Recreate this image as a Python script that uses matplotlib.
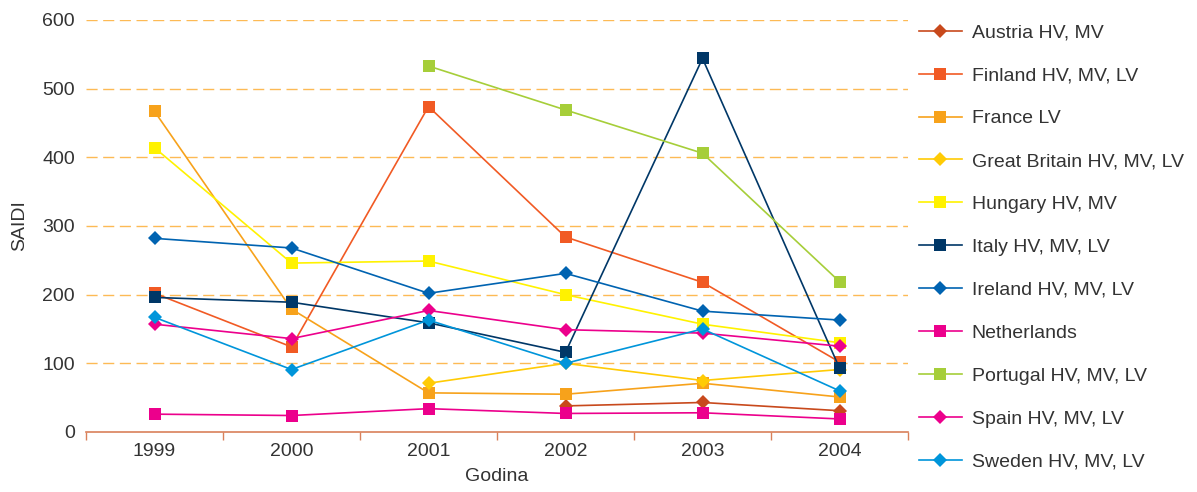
import matplotlib.pyplot as plt
import numpy as np

plt.rcParams['font.family'] = ['Liberation Sans', 'DejaVu Sans']

YEARS = ['1999', '2000', '2001', '2002', '2003', '2004']

SERIES_NAMES = [
    'Austria HV, MV', 'Finland HV, MV, LV', 'France LV', 'Great Britain HV, MV, LV',
    'Hungary HV, MV', 'Italy HV, MV, LV', 'Ireland HV, MV, LV', 'Netherlands',
    'Portugal HV, MV, LV', 'Spain HV, MV, LV', 'Sweden HV, MV, LV',
]

nan = np.nan
austria = [nan, nan, nan, 38, 43, 31]
finland = [202, 124, 474, 284, 218, 102]
france = [467, 179, 57, 55, 71, 51]
great_britain = [nan, nan, 71, 100, 75, 91]
hungary = [414, 246, 249, 200, 157, 130]
italy = [196, 189, 159, 116, 544, 93]
ireland = [282, 268, 202, 231, 176, 163]
netherlands = [26, 24, 34, 27, 28, 19]
portugal = [nan, nan, 533, 469, 406, 219]
spain = [157, 136, 177, 149, 144, 125]
sweden = [167, 91, 163, 100, 150, 60]

SERIES_VALUES = [austria, finland, france, great_britain, hungary, italy,
                 ireland, netherlands, portugal, spain, sweden]

STYLES = [
    ('#C8491C', 'D'), ('#F15A24', 's'), ('#F7A21B', 's'), ('#FFCB05', 'D'),
    ('#FFF200', 's'), ('#003767', 's'), ('#0063B1', 'D'), ('#EC008C', 's'),
    ('#A6CE39', 's'), ('#EC008C', 'D'), ('#0095DA', 'D'),
]

fig = plt.figure(figsize=(11.97, 4.92), dpi=100)
ax = fig.add_axes([86 / 1197, 60 / 492, 822 / 1197, 412 / 492])

x = np.arange(len(YEARS))
for name, values, (color, marker) in zip(SERIES_NAMES, SERIES_VALUES, STYLES):
    ms = 8.6 if marker == 's' else 7.0
    ax.plot(x, values, color=color, marker=marker, markersize=ms, linewidth=1.2,
            markeredgewidth=0, label=name, zorder=3)

ax.set_xlim(-0.5, len(YEARS) - 0.5)
ax.set_ylim(0, 600)
ax.set_yticks(np.arange(0, 601, 100))
ax.set_xticks(x)
ax.set_xticklabels(YEARS)
ax.set_xticks(np.arange(-0.5, len(YEARS), 1.0), minor=True)

for yv in range(100, 601, 100):
    ax.axhline(yv, color='#FDBA55', linewidth=1.0, dashes=(8, 4), zorder=1)

for side in ('left', 'right', 'top'):
    ax.spines[side].set_visible(False)
ax.spines['bottom'].set_color('#D9805A')
ax.spines['bottom'].set_linewidth(1.2)

ax.tick_params(axis='x', which='major', length=0, pad=8, labelsize=14, labelcolor='#333333')
ax.tick_params(axis='x', which='minor', length=6, width=1.0, color='#D9805A', direction='out')
ax.tick_params(axis='y', length=0, pad=8, labelsize=14, labelcolor='#333333')

ax.set_xlabel('Godina', fontsize=14, color='#333333', labelpad=6)
ax.set_ylabel('SAIDI', fontsize=14, color='#333333', labelpad=10)

ax.legend(loc='upper left', bbox_to_anchor=(919 / 1197, 1 - 24 / 492),
          bbox_transform=fig.transFigure, frameon=False, fontsize=14,
          handlelength=2.2, handletextpad=0.5, labelspacing=1.3,
          borderaxespad=0, borderpad=0, labelcolor='#333333')

fig.savefig('out.png', dpi=100)
